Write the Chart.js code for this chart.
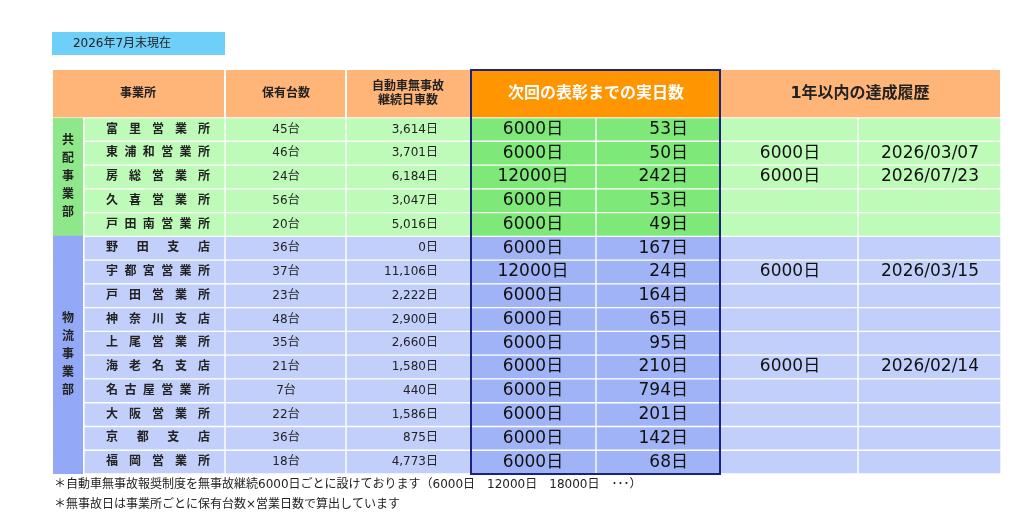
<!DOCTYPE html>
<html><head><meta charset="utf-8">
<script src="https://cdn.jsdelivr.net/npm/chart.js@4"></script>
<style>html,body{margin:0;background:#fff}#wrap{position:relative;width:1024px;height:528px}</style>
</head><body><div id="wrap"><canvas id="c"></canvas></div>
<script>
const FONT = '"DejaVu Sans", "Noto Sans CJK JP", sans-serif';
// column edges (px) and rows: 2 header slots + 15 data rows
const X = [52, 84, 225, 346, 471, 596, 720, 858, 1001];
const rows = [
  ['共配', '富里営業所', '45台', '3,614日', '6000日', '53日', '', ''],
  ['共配', '東浦和営業所', '46台', '3,701日', '6000日', '50日', '6000日', '2026/03/07'],
  ['共配', '房総営業所', '24台', '6,184日', '12000日', '242日', '6000日', '2026/07/23'],
  ['共配', '久喜営業所', '56台', '3,047日', '6000日', '53日', '', ''],
  ['共配', '戸田南営業所', '20台', '5,016日', '6000日', '49日', '', ''],
  ['物流', '野田支店', '36台', '0日', '6000日', '167日', '', ''],
  ['物流', '宇都宮営業所', '37台', '11,106日', '12000日', '24日', '6000日', '2026/03/15'],
  ['物流', '戸田営業所', '23台', '2,222日', '6000日', '164日', '', ''],
  ['物流', '神奈川支店', '48台', '2,900日', '6000日', '65日', '', ''],
  ['物流', '上尾営業所', '35台', '2,660日', '6000日', '95日', '', ''],
  ['物流', '海老名支店', '21台', '1,580日', '6000日', '210日', '6000日', '2026/02/14'],
  ['物流', '名古屋営業所', '7台', '440日', '6000日', '794日', '', ''],
  ['物流', '大阪営業所', '22台', '1,586日', '6000日', '201日', '', ''],
  ['物流', '京都支店', '36台', '875日', '6000日', '142日', '', ''],
  ['物流', '福岡営業所', '18台', '4,773日', '6000日', '68日', '', '']
];
const labels = ['h1', 'h2'].concat(rows.map((r, i) => 'r' + i));
const HEAD = '#FFB578', ORANGE = '#FF9500';
const colors = {
  共配: { grp: '#8EE88A', cell: '#BFFBB8', hi: '#7EE878' },
  物流: { grp: '#93A8F7', cell: '#C3CFFB', hi: '#A0B3F7' }
};
// header cells: [x0, x1, colour]
const heads = [[X[0], X[2], HEAD], [X[2], X[3], HEAD], [X[3], X[4], HEAD], [X[4], X[6], ORANGE], [X[6], X[8], HEAD]];

const datasets = [];
heads.forEach(h => datasets.push({
  data: labels.map(l => l[0] === 'h' ? [h[0], h[1]] : null),
  backgroundColor: h[2], barPercentage: 1.06,
  borderWidth: ctx => ({ left: 1, right: 1, top: 0, bottom: ctx.dataIndex === 1 ? 1 : 0 })
}));
// group column (merged vertically)
datasets.push({
  data: labels.map(l => l[0] === 'h' ? null : [X[0], X[1]]),
  backgroundColor: ctx => { const r = rows[ctx.dataIndex - 2]; return r ? colors[r[0]].grp : null; },
  barPercentage: 1.08,
  borderWidth: ctx => {
    const i = ctx.dataIndex - 2, r = rows[i];
    const last = !rows[i + 1] || rows[i + 1][0] !== (r && r[0]);
    return { left: 1, right: 1, top: 0, bottom: last ? 1 : 0 };
  }
});
for (let c = 1; c < 8; c++) {
  datasets.push({
    data: labels.map(l => l[0] === 'h' ? null : [X[c], X[c + 1]]),
    backgroundColor: ctx => { const r = rows[ctx.dataIndex - 2]; return r ? (c === 4 || c === 5 ? colors[r[0]].hi : colors[r[0]].cell) : null; },
    borderWidth: 1, barPercentage: 1
  });
}
datasets.forEach(d => Object.assign(d, { grouped: false, categoryPercentage: 1, borderColor: '#fff', borderSkipped: false }));

function txt(ctx, s, x, y, size, align, color, weight) {
  ctx.font = (weight || 'bold') + ' ' + size + 'px ' + FONT;
  ctx.fillStyle = color || '#222';
  ctx.textAlign = align || 'center';
  ctx.textBaseline = 'middle';
  ctx.fillText(s, x, y);
}

const tablePlugin = {
  id: 'tableText',
  afterDatasetsDraw(chart) {
    const ctx = chart.ctx, xs = chart.scales.x, ys = chart.scales.y;
    const px = v => xs.getPixelForValue(v);
    const hy = (ys.getPixelForValue(0) + ys.getPixelForValue(1)) / 2;
    ctx.save();
    txt(ctx, '事業所', px(138), hy, 12);
    txt(ctx, '保有台数', px(286), hy, 12);
    txt(ctx, '自動車無事故', px(408), hy - 7, 12);
    txt(ctx, '継続日車数', px(408), hy + 7, 12);
    txt(ctx, '次回の表彰までの実日数', px(596), hy, 16, 'center', '#fff');
    txt(ctx, '1年以内の達成履歴', px(860), hy, 16, 'center', '#222');
    // group labels (vertical)
    [['共配事業部', 0, 4], ['物流事業部', 5, 14]].forEach(g => {
      const top = ys.getPixelForValue(g[1] + 2), bot = ys.getPixelForValue(g[2] + 2);
      const mid = (top + bot) / 2, chars = g[0].split('');
      chars.forEach((ch, k) => txt(ctx, ch, px(68), mid + (k - 2) * 18, 12));
    });
    rows.forEach((r, i) => {
      const y = ys.getPixelForValue(i + 2);
      const nm = r[1].split(''), l = 112, rr = 204;
      nm.forEach((ch, k) => txt(ctx, ch, px(l + (rr - l) * k / (nm.length - 1)), y, 12));
      txt(ctx, r[2], px(286), y, 12, 'center', '#222', 'normal');
      txt(ctx, r[3], px(438), y, 12, 'right', '#222', 'normal');
      txt(ctx, r[4], px(533), y, 17, 'center', '#111', 'normal');
      txt(ctx, r[5], px(688), y, 17, 'right', '#111', 'normal');
      if (r[6]) txt(ctx, r[6], px(790), y, 17, 'center', '#111', 'normal');
      if (r[7]) txt(ctx, r[7], px(930), y, 17, 'center', '#111', 'normal');
    });
    // navy outline round the highlighted block
    ctx.strokeStyle = '#1A237E'; ctx.lineWidth = 2;
    ctx.strokeRect(px(471), 70, px(720) - px(471), 404);
    // title badge and notes
    ctx.fillStyle = '#6ECFF8'; ctx.fillRect(52, 32, 173, 23);
    txt(ctx, '2026年7月末現在', 122, 44, 12, 'center', '#222', 'normal');
    txt(ctx, '＊自動車無事故報奨制度を無事故継続6000日ごとに設けております（6000日　12000日　18000日　･･･）', 54, 485, 12, 'left', '#222', 'normal');
    txt(ctx, '＊無事故日は事業所ごとに保有台数×営業日数で算出しています', 54, 505, 12, 'left', '#222', 'normal');
    ctx.restore();
  }
};

new Chart(document.getElementById('c'), {
  type: 'bar',
  data: { labels, datasets },
  options: {
    indexAxis: 'y', responsive: true, maintainAspectRatio: false, animation: false,
    layout: { padding: { left: 0, right: 0, top: 70, bottom: 54 } },
    plugins: { legend: { display: false }, tooltip: { enabled: false } },
    scales: {
      x: { type: 'linear', min: 0, max: 1024, display: false },
      y: { display: false }
    }
  },
  plugins: [tablePlugin]
});
</script>
</body></html>
